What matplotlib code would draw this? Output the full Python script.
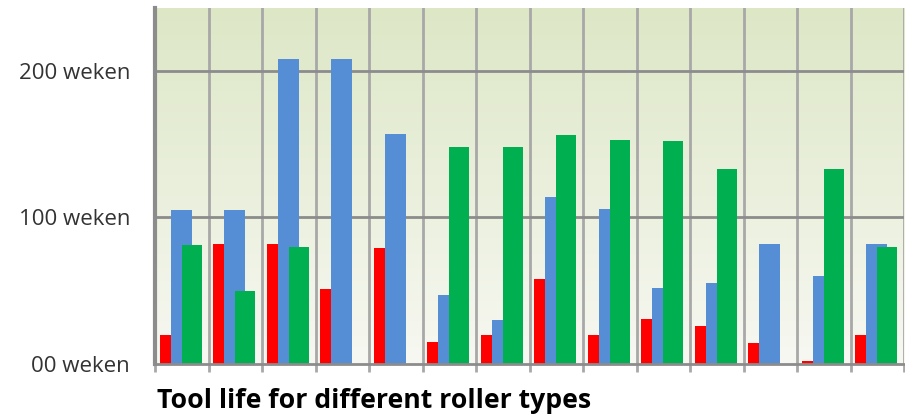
import numpy as np
import matplotlib
matplotlib.use("Agg")
import matplotlib.pyplot as plt
from matplotlib.colors import LinearSegmentedColormap

# ─── DATA (weeks) ────────────────────────────────────────────
rollers     = list(range(1, 15))
life_red    = [20, 82, 82, 51, 79, 15, 20, 58, 20, 31, 26, 14, 2, 20]
life_blue   = [105, 105, 208, 208, 157, 47, 30, 114, 106, 52, 55, 82, 60, 82]
life_green  = [81, 50, 80, 0, 0, 148, 148, 156, 153, 152, 133, 0, 133, 80]
tick_values = [0, 100, 200]
tick_labels = ["00 weken", "100 weken", "200 weken"]
title       = "Tool life for different roller types"

# ─── STYLE ───────────────────────────────────────────────────
RED   = "#ff0000"
BLUE  = "#558ed5"
GREEN = "#00b050"
GRID  = "#a8a8a8"
YMAX  = 243

plt.rcParams["font.family"] = ["Open Sans", "DejaVu Sans"]

fig = plt.figure(figsize=(9.05, 4.19), dpi=100)
ax = fig.add_axes([155 / 905, 55 / 419, 749 / 905, 356 / 419])

x = np.arange(len(rollers))

# soft green-to-white background
bg = LinearSegmentedColormap.from_list("bg", ["#f7f8f2", "#dde7c6"])
grad = np.linspace(0, 1, 256).reshape(-1, 1)
ax.imshow(grad, cmap=bg, origin="lower", aspect="auto",
          extent=(-0.5, len(rollers) - 0.5, 0, YMAX), zorder=0)

# grid lines
for xb in np.arange(-0.5, len(rollers) + 0.5, 1):
    ax.axvline(xb, color=GRID, linewidth=2, zorder=1)
for yv in tick_values[1:]:
    ax.axhline(yv, color="#8c8c8c", linewidth=2, zorder=1)

# bars: red and blue side by side, green overlapping blue
ax.bar(x - 0.304, life_red, width=0.206, color=RED, zorder=3)
ax.bar(x - 0.006, life_blue, width=0.391, color=BLUE, zorder=2)
ax.bar(x + 0.190, life_green, width=0.373, color=GREEN, zorder=3)

ax.set_xlim(-0.5, len(rollers) - 0.5)
ax.set_ylim(0, YMAX)

ax.set_xticks(np.arange(-0.5, len(rollers) + 0.5, 1))
ax.set_xticklabels([])
ax.tick_params(axis="x", direction="out", length=6, width=2, color=GRID)

ax.set_yticks(tick_values)
ax.set_yticklabels(tick_labels, fontsize=16, color="#333333")
ax.tick_params(axis="y", length=0, pad=18)

for side in ["top", "right"]:
    ax.spines[side].set_visible(False)
ax.spines["left"].set_color("#8c8c8c")
ax.spines["left"].set_linewidth(3)
ax.spines["bottom"].set_color("#8c8c8c")
ax.spines["bottom"].set_linewidth(2)
ax.spines["left"].set_zorder(4)
ax.spines["bottom"].set_zorder(4)

fig.text(157 / 905, 1 - 408 / 419, title, fontsize=19.2, fontweight="bold",
         color="black", va="baseline", ha="left")

fig.savefig("out.png", dpi=100)
